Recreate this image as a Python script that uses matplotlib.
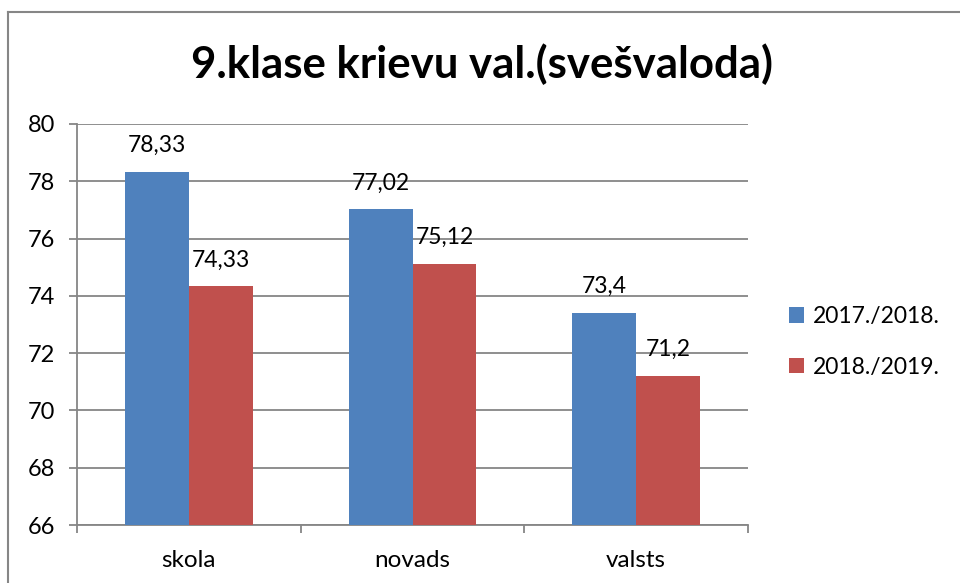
import matplotlib
matplotlib.use('Agg')
import matplotlib.pyplot as plt
from matplotlib.lines import Line2D
import numpy as np

plt.rcParams['font.family'] = ['Lato', 'DejaVu Sans']

#Data
categories = ['skola', 'novads', 'valsts']
series_names = ['2017./2018.', '2018./2019.']
vals_2018 = [78.33, 77.02, 73.4]
vals_2019 = [74.33, 75.12, 71.2]
yticks = [66, 68, 70, 72, 74, 76, 78, 80]
title = '9.klase krievu val.(svešvaloda)'

blue = '#4F81BD'
red = '#C0504D'
grid_col = '#868686'

fig = plt.figure(figsize=(9.6, 5.83), dpi=100)
ax = fig.add_axes([77/960, 58/583, 671/960, 401/583])

x = np.arange(len(categories))
w = 0.2857
b1 = ax.bar(x - w/2, vals_2018, width=w, color=blue, label=series_names[0], zorder=3)
b2 = ax.bar(x + w/2, vals_2019, width=w, color=red, label=series_names[1], zorder=3)

#Data labels with decimal comma
for bars, vals in [(b1, vals_2018), (b2, vals_2019)]:
    for rect, v in zip(bars, vals):
        ax.annotate(('%g' % v).replace('.', ','),
                    (rect.get_x() + rect.get_width()/2, v),
                    xytext=(0, 19), textcoords='offset points',
                    ha='center', va='center', fontsize=16.5, color='black')

ax.set_ylim(66, 80)
ax.set_xlim(-0.5, 2.5)
ax.set_yticks(yticks)
ax.set_yticklabels([str(t) for t in yticks], fontsize=17)
ax.set_xticks(x)
ax.set_xticklabels(categories, fontsize=17.5)
ax.set_xticks([-0.5, 0.5, 1.5, 2.5], minor=True)
ax.tick_params(axis='x', which='major', length=0, pad=18)
ax.tick_params(axis='x', which='minor', length=6, width=1.3, color=grid_col)
ax.tick_params(axis='y', length=6, width=1.3, color=grid_col, pad=10)

ax.grid(axis='y', color=grid_col, linewidth=1.3, zorder=0)
ax.set_axisbelow(True)
for s in ['top', 'right']:
    ax.spines[s].set_visible(False)
for s in ['left', 'bottom']:
    ax.spines[s].set_color(grid_col)
    ax.spines[s].set_linewidth(1.3)

fig.text(482/960, 1 - 64/583, title, ha='center', va='center',
         fontsize=31.5, fontweight='bold')

ax.legend(loc='center left', bbox_to_anchor=(778/960, 1 - 342/583),
          bbox_transform=fig.transFigure, frameon=False, fontsize=16.5,
          handlelength=0.65, handleheight=0.65, handletextpad=0.35,
          labelspacing=1.3, borderpad=0)

#Outer chart border
fig.add_artist(Line2D([8/960, 8/960], [0, 1 - 12/583], transform=fig.transFigure,
                      color=grid_col, linewidth=1.5))
fig.add_artist(Line2D([8/960, 1], [1 - 12/583, 1 - 12/583], transform=fig.transFigure,
                      color=grid_col, linewidth=1.5))

fig.savefig('out.png', dpi=100)
